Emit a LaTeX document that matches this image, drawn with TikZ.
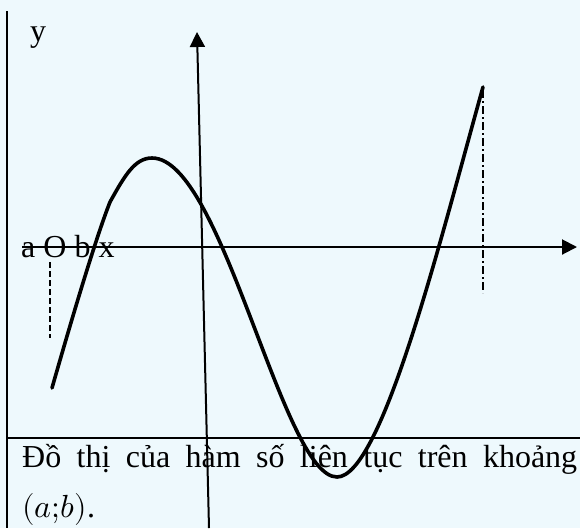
\documentclass[tikz,border=0pt]{standalone}
\usepackage{fontspec}
\usepackage{unicode-math}
\setmainfont{Liberation Serif}
\usetikzlibrary{arrows.meta}
\definecolor{pagebg}{HTML}{EEF9FD}
\tikzset{
  axis/.style={line width=2pt, -{Triangle[width=15pt,length=15pt]}},
  framerule/.style={line width=2.2pt},
  graphline/.style={line width=3.6pt, line cap=round, line join=round},
  guide/.style={line width=1.6pt, dash pattern=on 6pt off 3pt},
  guidedot/.style={line width=1.6pt, dash pattern=on 8pt off 3pt on 2pt off 3pt},
  lbl/.style={anchor=base west, inner sep=0pt, font=\fontsize{32}{38}\selectfont},
}

\begin{document}
\begin{tikzpicture}[x=1pt, y=-1pt]
    \fill[pagebg] (0,0) rectangle (580,528);
    \useasboundingbox (0,0) rectangle (580,528);
    % frame of the table cell
    \coordinate (ftop) at (7,11);
    \coordinate (fbot) at (7,528);
    \coordinate (rowl) at (7,438);
    \coordinate (rowr) at (580,438);
    \draw[framerule] (ftop) -- (fbot);
    \draw[framerule] (rowl) -- (rowr);
    % axes
    \coordinate (ybot) at (209,528);
    \coordinate (ytop) at (197,32);
    \coordinate (xleft) at (22,247);
    \coordinate (xright) at (577,247);
    \draw[axis] (ybot) -- (ytop);
    \draw[axis] (xleft) -- (xright);
    \node[lbl] (ylab) at (30,41) {y};
    \node[lbl] (xlab) at (21,257) {a O b x};
    % guides at the ends
    \coordinate (ga1) at (50,262);
    \coordinate (ga2) at (50,338);
    \coordinate (gb1) at (483,90);
    \coordinate (gb2) at (483,293);
    \draw[guide] (ga1) -- (ga2);
    \draw[guidedot] (gb1) -- (gb2);
    % the graph
    \coordinate (pa) at (52,388);
    \coordinate (pk) at (110,202);
    \coordinate (pmax) at (152,158);
    \coordinate (pmin) at (337,477);
    \coordinate (pb) at (483,87);
    \draw[graphline] (pa) .. controls (70,325) and (95,240) .. (pk)
      .. controls (125,175) and (135,158) .. (pmax)
      .. controls (222.6,158) and (282.4,477) .. (pmin)
      .. controls (382,477) and (441,237) .. (pb);
    % caption
    \node[lbl] (cap1) at (22,467) {\makebox[555pt][s]{Đồ thị của hàm số liên tục trên khoảng}};
    \node[lbl] (cap2) at (22,517) {$\left(a{;}b\right)$.};
  \end{tikzpicture}
\end{document}
